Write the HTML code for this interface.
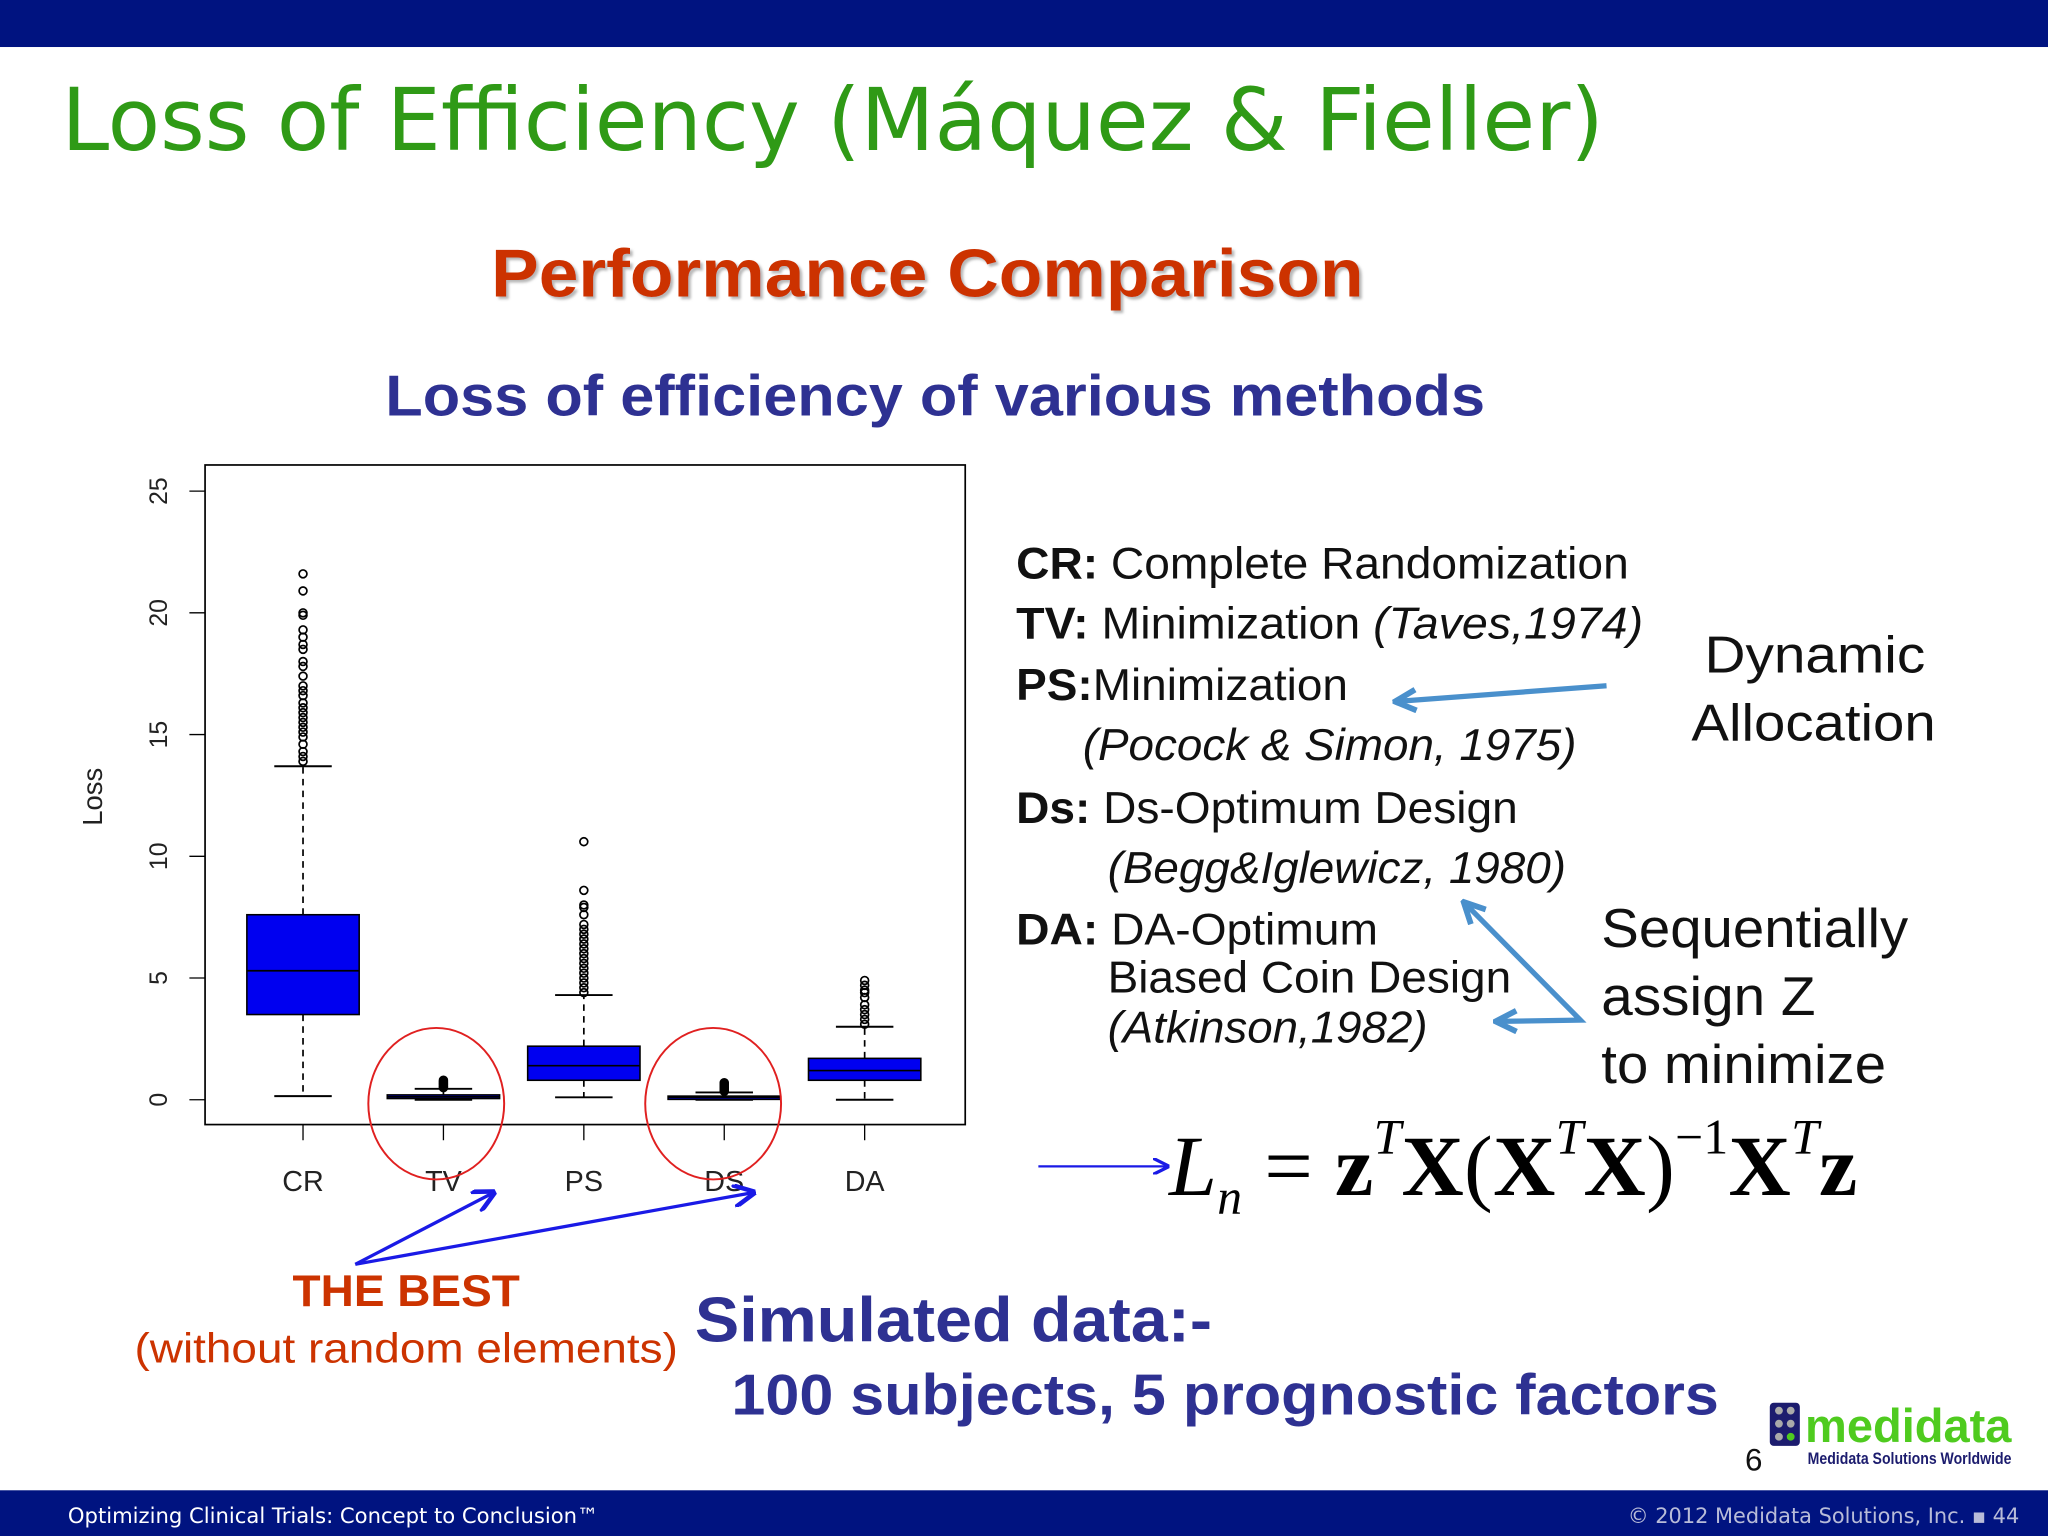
<!DOCTYPE html>
<html><head><meta charset="utf-8"><style>
html,body{margin:0;padding:0;background:#fff;}
svg{display:block;}
</style></head><body>
<svg id="slide" width="2048" height="1536" viewBox="0 0 1568 1176" xmlns="http://www.w3.org/2000/svg" font-family="Liberation Sans, sans-serif">
<defs>
<marker id="ah" viewBox="0 0 10 10" refX="9" refY="5" markerWidth="7" markerHeight="7" orient="auto-start-reverse"><path d="M0,0 L10,5 L0,10" fill="none" stroke="#1a1ae6" stroke-width="2"/></marker>
<marker id="ahl" viewBox="0 0 10 10" refX="8" refY="5" markerWidth="5" markerHeight="5" orient="auto-start-reverse"><path d="M1,1 L9,5 L1,9" fill="none" stroke="#4a90cc" stroke-width="2.2"/></marker>
<filter id="sh"><feDropShadow dx="2" dy="2" stdDeviation="1" flood-color="#999" flood-opacity="0.7"/></filter>
</defs>
<rect x="0" y="0" width="1568" height="36" fill="#001380"/>
<rect x="0" y="1141" width="1568" height="35" fill="#001380"/>
<text x="47" y="115" font-family="DejaVu Sans, sans-serif" font-size="66" fill="#2f9a16" textLength="1181" lengthAdjust="spacingAndGlyphs">Loss of Efficiency (Máquez &amp; Fieller)</text>
<text x="376" y="227" font-size="52" font-weight="bold" fill="#cc3300" filter="url(#sh)" textLength="668" lengthAdjust="spacingAndGlyphs">Performance Comparison</text>
<text x="295" y="318" font-size="44" font-weight="bold" fill="#2e3192" textLength="842" lengthAdjust="spacingAndGlyphs">Loss of efficiency of various methods</text>

<g id="chart"></g>

<ellipse cx="334" cy="845" rx="52" ry="58" fill="none" stroke="#e02020" stroke-width="1.5"/>
<ellipse cx="546" cy="845" rx="52" ry="58" fill="none" stroke="#e02020" stroke-width="1.5"/>
<line x1="272" y1="968" x2="378" y2="913" stroke="#1a1ae6" stroke-width="2.5" marker-end="url(#ah)"/>
<line x1="272" y1="968" x2="577" y2="913" stroke="#1a1ae6" stroke-width="2.5" marker-end="url(#ah)"/>
<text x="224" y="1000" font-size="34" font-weight="bold" fill="#cc3300" textLength="174" lengthAdjust="spacingAndGlyphs">THE BEST</text>
<text x="103" y="1043" font-size="32" fill="#cc3300" textLength="416" lengthAdjust="spacingAndGlyphs">(without random elements)</text>

<g font-size="34" fill="#111">
<text x="778" y="443" textLength="469" lengthAdjust="spacingAndGlyphs"><tspan font-weight="bold">CR:</tspan> Complete Randomization</text>
<text x="778" y="489" textLength="480" lengthAdjust="spacingAndGlyphs"><tspan font-weight="bold">TV:</tspan> Minimization <tspan font-style="italic">(Taves,1974)</tspan></text>
<text x="778" y="536" textLength="254" lengthAdjust="spacingAndGlyphs"><tspan font-weight="bold">PS:</tspan>Minimization</text>
<text x="829" y="582" font-style="italic" textLength="378" lengthAdjust="spacingAndGlyphs">(Pocock &amp; Simon, 1975)</text>
<text x="778" y="630" textLength="384" lengthAdjust="spacingAndGlyphs"><tspan font-weight="bold">Ds:</tspan> Ds-Optimum Design</text>
<text x="848" y="676" font-style="italic" textLength="351" lengthAdjust="spacingAndGlyphs">(Begg&amp;Iglewicz, 1980)</text>
<text x="778" y="723" textLength="277" lengthAdjust="spacingAndGlyphs"><tspan font-weight="bold">DA:</tspan> DA-Optimum</text>
<text x="848" y="760" textLength="309" lengthAdjust="spacingAndGlyphs">Biased Coin Design</text>
<text x="848" y="798" font-style="italic" textLength="245" lengthAdjust="spacingAndGlyphs">(Atkinson,1982)</text>
</g>
<g font-size="40" fill="#111">
<text x="1305" y="515" textLength="169" lengthAdjust="spacingAndGlyphs">Dynamic</text>
<text x="1295" y="567" textLength="187" lengthAdjust="spacingAndGlyphs">Allocation</text>
</g>
<g font-size="42" fill="#111">
<text x="1226" y="725" textLength="235" lengthAdjust="spacingAndGlyphs">Sequentially</text>
<text x="1226" y="777" textLength="164" lengthAdjust="spacingAndGlyphs">assign Z</text>
<text x="1226" y="829" textLength="218" lengthAdjust="spacingAndGlyphs">to minimize</text>
</g>
<line x1="1230" y1="525" x2="1070" y2="537" stroke="#4a90cc" stroke-width="4" marker-end="url(#ahl)"/>
<polyline points="1122,692 1210,781 1147,782" fill="none" stroke="#4a90cc" stroke-width="4" marker-start="url(#ahl)" marker-end="url(#ahl)"/>

<line x1="795" y1="893" x2="894" y2="893" stroke="#1a1ae6" stroke-width="1.8" marker-end="url(#ah)"/>
<text x="895" y="915" font-family="Liberation Serif, serif" font-size="66" fill="#000" textLength="527" lengthAdjust="spacing"><tspan font-style="italic">L</tspan><tspan font-style="italic" font-size="38" dy="14">n</tspan><tspan dy="-14"> = </tspan><tspan font-weight="bold">z</tspan><tspan font-style="italic" font-size="38" dy="-32">T</tspan><tspan font-weight="bold" dy="32">X</tspan><tspan>(</tspan><tspan font-weight="bold">X</tspan><tspan font-style="italic" font-size="38" dy="-32">T</tspan><tspan font-weight="bold" dy="32">X</tspan><tspan>)</tspan><tspan font-size="38" dy="-32">−1</tspan><tspan font-weight="bold" dy="32">X</tspan><tspan font-style="italic" font-size="38" dy="-32">T</tspan><tspan font-weight="bold" dy="32">z</tspan></text>

<text x="532" y="1027" font-size="48" font-weight="bold" fill="#2e3192" textLength="396" lengthAdjust="spacingAndGlyphs">Simulated data:-</text>
<text x="560" y="1083" font-size="44" font-weight="bold" fill="#2e3192" textLength="756" lengthAdjust="spacingAndGlyphs">100 subjects, 5 prognostic factors</text>

<g>
<rect x="1355" y="1074" width="23" height="33" rx="3" fill="#1c1c6e"/>
<circle cx="1362" cy="1080" r="3" fill="#aaa"/><circle cx="1371" cy="1080" r="3" fill="#aaa"/>
<circle cx="1362" cy="1090" r="3" fill="#aaa"/><circle cx="1371" cy="1090" r="3" fill="#aaa"/>
<circle cx="1362" cy="1100" r="3" fill="#aaa"/><circle cx="1371" cy="1100" r="3" fill="#4fcb1f"/>
<text x="1382" y="1104" font-size="36" font-weight="bold" fill="#4fcb1f" textLength="158" lengthAdjust="spacingAndGlyphs">medidata</text>
<text x="1384" y="1121" font-size="13" font-weight="bold" fill="#1c1c6e" textLength="156" lengthAdjust="spacingAndGlyphs">Medidata Solutions Worldwide</text>
</g>
<text x="1336" y="1126" font-size="24" fill="#111">6</text>
<text x="52" y="1166" font-family="DejaVu Sans, sans-serif" font-size="16" fill="#fff" textLength="406" lengthAdjust="spacingAndGlyphs">Optimizing Clinical Trials: Concept to Conclusion™</text>
<text x="1546" y="1166" text-anchor="end" font-family="DejaVu Sans, sans-serif" font-size="16" fill="#b8bcd8">© 2012 Medidata Solutions, Inc. ▪ 44</text>
</svg>
<script>
const categories = ["CR","TV","PS","DS","DA"];
const whiskerLow = [0.15, 0.0, 0.1, 0.0, 0.0];
const q1Values = [3.5, 0.05, 0.8, 0.05, 0.8];
const medianValues = [5.3, 0.12, 1.4, 0.1, 1.2];
const q3Values = [7.6, 0.2, 2.2, 0.15, 1.7];
const whiskerHigh = [13.7, 0.45, 4.3, 0.3, 3.0];
const outliersCR = [13.9,14.1,14.3,14.6,14.9,15.1,15.3,15.5,15.7,15.9,16.1,16.3,16.6,16.8,17.0,17.4,17.8,18.0,18.5,18.7,19.0,19.3,19.9,20.0,20.9,21.6];
const outliersTV = [0.5,0.55,0.6,0.65,0.7,0.75,0.8];
const outliersPS = [4.4,4.6,4.8,5.0,5.2,5.4,5.6,5.8,6.0,6.2,6.4,6.6,6.8,7.0,7.2,7.6,7.9,8.0,8.6,10.6];
const outliersDS = [0.35,0.4,0.45,0.5,0.55,0.6,0.65,0.7];
const outliersDA = [3.1,3.3,3.5,3.7,3.9,4.2,4.4,4.5,4.7,4.9];
const outlierSets = [outliersCR, outliersTV, outliersPS, outliersDS, outliersDA];
const yTicks = [0,5,10,15,20,25];

const NS = "http://www.w3.org/2000/svg";
const g = document.getElementById("chart");
const plot = {left:157, right:739, top:356, bottom:861};
const y0 = 842, y25 = 376;
function yScale(v){ return y0 + (y25 - y0) * v / 25; }
const catStart = 232, catStep = 107.5;
function xScale(i){ return catStart + i * catStep; }
function mk(tag, attrs){ const e = document.createElementNS(NS, tag); for (const k in attrs) e.setAttribute(k, attrs[k]); g.appendChild(e); return e; }

const frame = mk("rect", {x:plot.left, y:plot.top, width:plot.right-plot.left, height:plot.bottom-plot.top, fill:"none", stroke:"#000", "stroke-width":1.3});



yTicks.forEach(t => {
  const y = yScale(t);
  const tk = mk("line", {x1:145, x2:plot.left, y1:y, y2:y, stroke:"#000", "stroke-width":1});
  
  
  const lb = mk("text", {x:128, y:y, "font-size":19, fill:"#222", "text-anchor":"middle", transform:`rotate(-90 128 ${y})`});
  lb.textContent = t;
  
  
});
const yt = mk("text", {x:78, y:610, "font-size":21, fill:"#222", "text-anchor":"middle", transform:"rotate(-90 78 610)"});
yt.textContent = "Loss";



const halfW = 43;
categories.forEach((c, i) => {
  const x = xScale(i);
  const tk = mk("line", {x1:x, x2:x, y1:plot.bottom, y2:plot.bottom+12, stroke:"#000", "stroke-width":1});
  
  
  const lb = mk("text", {x:x, y:912, "font-size":22, fill:"#222", "text-anchor":"middle"});
  lb.textContent = c;
  
  

  const wl = mk("line", {x1:x, x2:x, y1:yScale(q3Values[i]), y2:yScale(whiskerHigh[i]), stroke:"#000", "stroke-width":1.3, "stroke-dasharray":"5,4"});
  
  
  const wl2 = mk("line", {x1:x, x2:x, y1:yScale(q1Values[i]), y2:yScale(whiskerLow[i]), stroke:"#000", "stroke-width":1.3, "stroke-dasharray":"5,4"});
  
  
  const cap1 = mk("line", {x1:x-22, x2:x+22, y1:yScale(whiskerHigh[i]), y2:yScale(whiskerHigh[i]), stroke:"#000", "stroke-width":1.5});
  
  
  const cap2 = mk("line", {x1:x-22, x2:x+22, y1:yScale(whiskerLow[i]), y2:yScale(whiskerLow[i]), stroke:"#000", "stroke-width":1.5});
  
  

  const top = yScale(q3Values[i]), bot = yScale(q1Values[i]);
  const box = mk("rect", {x:x-halfW, y:top, width:halfW*2, height:Math.max(bot-top, 2.5), fill:"#0000f0", stroke:"#000", "stroke-width":1.2});
  
  
  const med = mk("line", {x1:x-halfW, x2:x+halfW, y1:yScale(medianValues[i]), y2:yScale(medianValues[i]), stroke:"#000", "stroke-width":1.3});
  
  

  outlierSets[i].forEach(v => {
    const o = mk("circle", {cx:x, cy:yScale(v), r:3, fill:"none", stroke:"#000", "stroke-width":1.3});
    
    
  });
});
</script>
</body></html>
